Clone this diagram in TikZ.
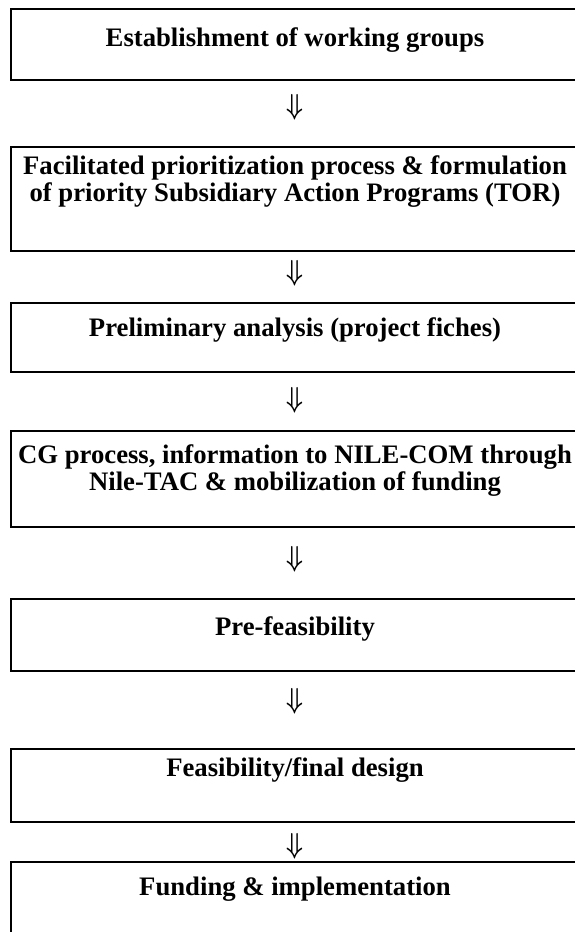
\documentclass[tikz,border=0pt]{standalone}
\usepackage{fontspec}
\usepackage{graphicx}
\setmainfont{Liberation Serif}
\usetikzlibrary{calc}

\newcommand{\stagearrow}{\scalebox{2.4}[2.9]{\boldmath$\Downarrow$}}

\tikzset{
  stagebox/.style={draw, line width=2.2pt, minimum width=568pt, inner sep=0pt, anchor=north},
  stagetext/.style={font=\fontsize{26.7}{27.5}\selectfont\bfseries, align=center, inner sep=0pt, anchor=north},
  flowarrow/.style={inner sep=0pt}
}

\begin{document}
\begin{tikzpicture}
  % page frame
  \useasboundingbox (0,0) rectangle (575pt,-932pt);
  \fill[white] (0,0) rectangle (575pt,-932pt);

  % stage boxes
  \node[stagebox, minimum height=71pt]  (b1) at (295pt,-8pt)   {};
  \node[stagebox, minimum height=104pt] (b2) at (295pt,-146pt) {};
  \node[stagebox, minimum height=69pt]  (b3) at (295pt,-302pt) {};
  \node[stagebox, minimum height=96pt]  (b4) at (295pt,-430pt) {};
  \node[stagebox, minimum height=72pt]  (b5) at (295pt,-598pt) {};
  \node[stagebox, minimum height=73pt]  (b6) at (295pt,-748pt) {};
  \node[stagebox, minimum height=110pt] (b7) at (295pt,-861pt) {};

  % stage labels
  \node[stagetext] (t1) at ([yshift=-19pt]b1.north) {Establishment of working groups};
  \node[stagetext] (t2) at ([yshift=-9pt]b2.north)
    {Facilitated prioritization process \& formulation\\of priority Subsidiary Action Programs (TOR)};
  \node[stagetext] (t3) at ([yshift=-15pt]b3.north) {Preliminary analysis (project fiches)};
  \node[stagetext] (t4) at ([yshift=-14pt]b4.north)
    {CG process, information to NILE-COM through\\Nile-TAC \& mobilization of funding};
  \node[stagetext] (t5) at ([yshift=-18pt]b5.north) {Pre-feasibility};
  \node[stagetext] (t6) at ([yshift=-9pt]b6.north) {Feasibility/final design};
  \node[stagetext] (t7) at ([yshift=-16pt]b7.north) {Funding \& implementation};

  % downward arrows between stages
  \node[flowarrow] (a1) at ($(b1.south)!0.40!(b2.north)$) {\stagearrow};
  \node[flowarrow] (a2) at ($(b2.south)!0.42!(b3.north)$) {\stagearrow};
  \node[flowarrow] (a3) at ($(b3.south)!0.48!(b4.north)$) {\stagearrow};
  \node[flowarrow] (a4) at ($(b4.south)!0.45!(b5.north)$) {\stagearrow};
  \node[flowarrow] (a5) at ($(b5.south)!0.38!(b6.north)$) {\stagearrow};
  \node[flowarrow] (a6) at ($(b6.south)!0.60!(b7.north)$) {\stagearrow};
\end{tikzpicture}
\end{document}
